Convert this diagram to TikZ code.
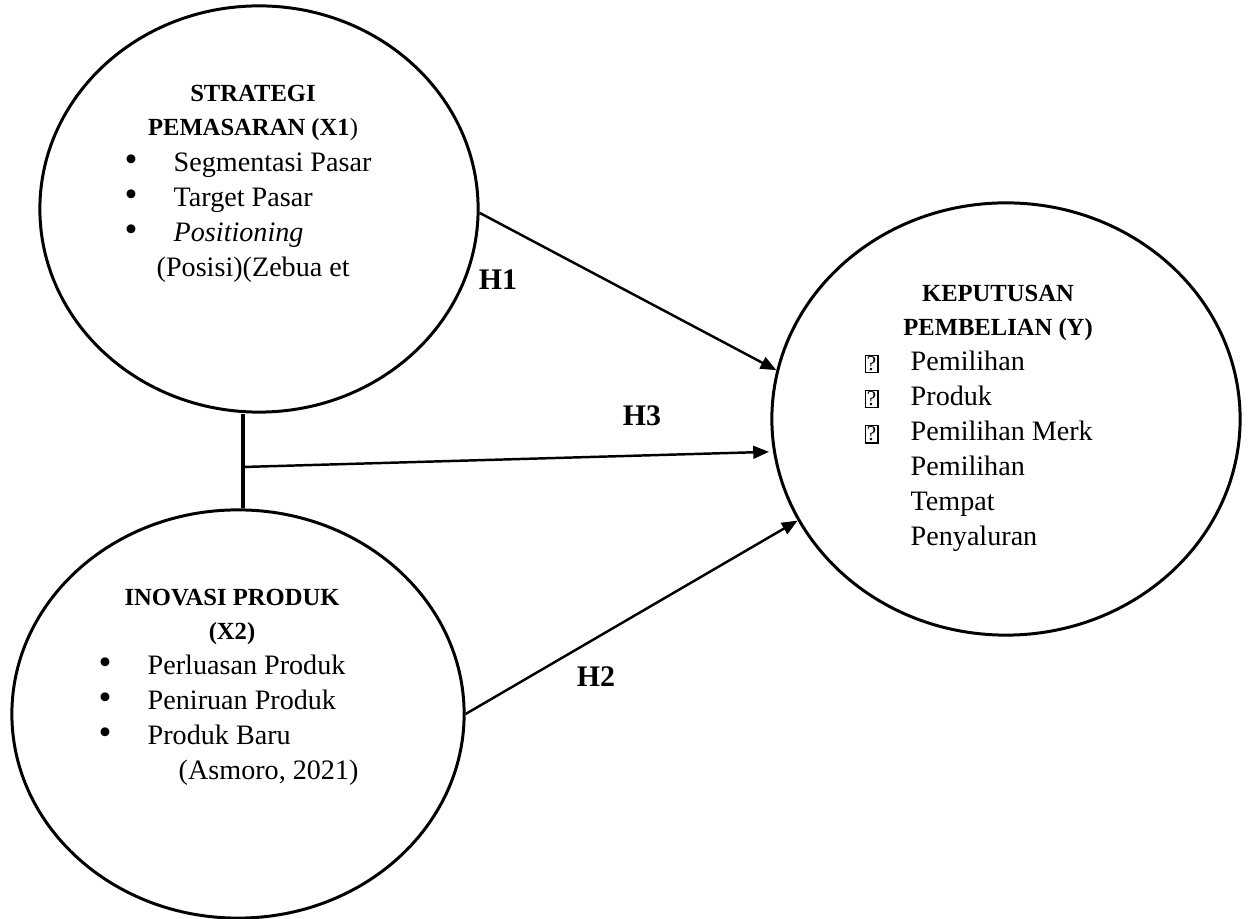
\documentclass[tikz,border=0pt]{standalone}
\usepackage{fontspec}
\setmainfont{Liberation Serif}
\usetikzlibrary{shapes.geometric,arrows.meta}

\newcommand{\qbox}{{\setlength{\fboxsep}{0.3pt}\setlength{\fboxrule}{0.35pt}\fbox{\fontsize{6}{6}\selectfont ?}}}
\newcommand{\bul}{{\fontsize{10.5}{1}\selectfont\textbullet}}

\begin{document}
\begin{tikzpicture}[x=0.01cm, y=-0.01cm,
    var/.style={ellipse, draw, line width=0.85pt},
    head/.style={font=\fontsize{7}{9.4}\selectfont\bfseries, align=center},
    items/.style={font=\fontsize{8}{9.96}\selectfont, align=left, anchor=base west, inner sep=0pt},
    hyp/.style={font=\fontsize{8.5}{10}\selectfont\bfseries},
    arr/.style={-{Triangle[length=4.5pt,width=3.6pt]}, line width=0.7pt}]
    \useasboundingbox (0,0) rectangle (1248,919);

    % Strategi pemasaran
    \node[var, minimum width=4.38cm, minimum height=4.06cm] (x1) at (259,209) {};
    \node[head] (x1h) at (253,113) {STRATEGI\\PEMASARAN (X1{\mdseries)}};
    \node[items] (x1l) at (124,277) {\makebox[0.49cm][l]{\bul}Segmentasi Pasar\\
        \makebox[0.49cm][l]{\bul}Target Pasar\\
        \makebox[0.49cm][l]{\bul}\textit{Positioning}\\
        \hspace*{0.32cm}(Posisi)(Zebua et};

    % Inovasi produk
    \node[var, minimum width=4.52cm, minimum height=4.08cm] (x2) at (238,714) {};
    \node[head] (x2h) at (232,617) {INOVASI PRODUK\\(X2)};
    \node[items] (x2l) at (98,780) {\makebox[0.49cm][l]{\bul}Perluasan Produk\\
        \makebox[0.49cm][l]{\bul}Peniruan Produk\\
        \makebox[0.49cm][l]{\bul}Produk Baru\\
        \hspace*{0.80cm}(Asmoro, 2021)};

    % Keputusan pembelian
    \node[var, minimum width=4.68cm, minimum height=4.32cm] (yy) at (1006,419) {};
    \node[head] (yh) at (998,313) {KEPUTUSAN\\PEMBELIAN (Y)};
    \node[items] (yl) at (864,546) {\makebox[0.46cm][l]{\qbox}Pemilihan\\
        \makebox[0.46cm][l]{\qbox}Produk\\
        \makebox[0.46cm][l]{\qbox}Pemilihan Merk\\
        \hspace*{0.46cm}Pemilihan\\
        \hspace*{0.46cm}Tempat\\
        \hspace*{0.46cm}Penyaluran};

    % Hipotesis
    \coordinate (j) at (243,467);
    \draw[line width=1.1pt] (x1.south -| j) -- (x2.north -| j);
    \draw[arr] (x1.-1) -- (yy.168);
    \draw[arr, shorten >=0.04cm] (j) -- (yy.188);
    \draw[arr] (x2.east) -- (yy.206);

    \node[hyp] (h1) at (498,280) {H1};
    \node[hyp] (h3) at (642,416) {H3};
    \node[hyp] (h2) at (596,677) {H2};
\end{tikzpicture}
\end{document}
